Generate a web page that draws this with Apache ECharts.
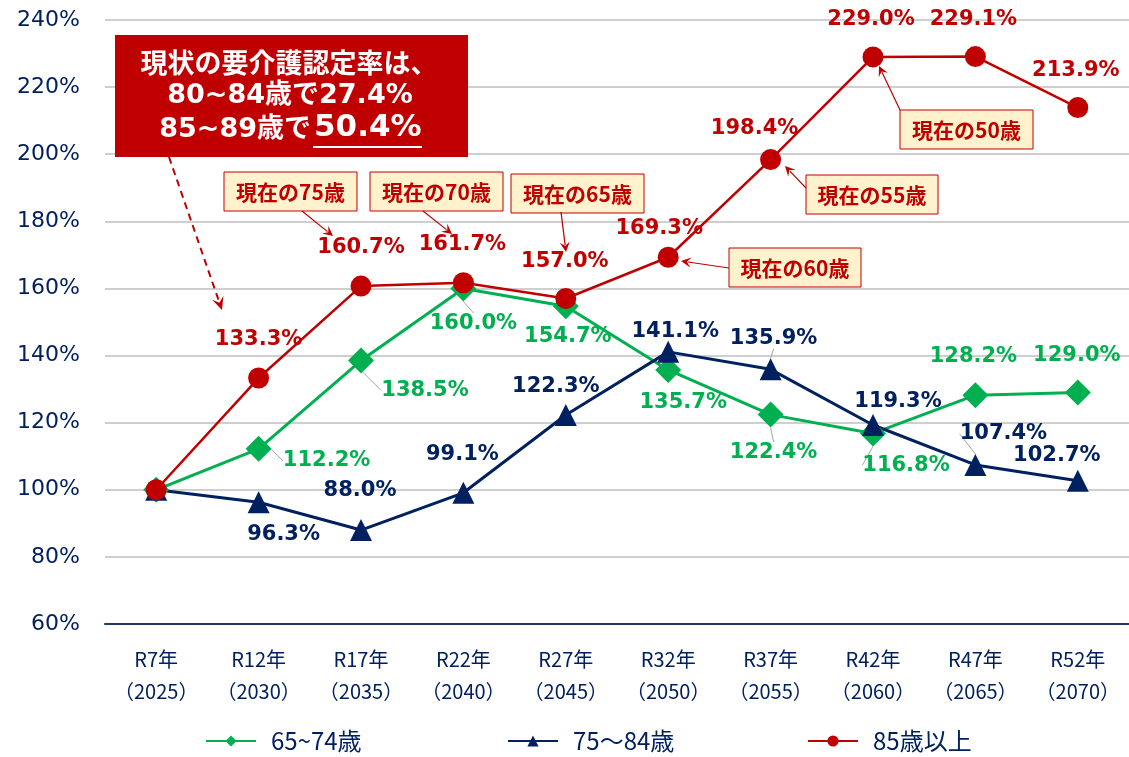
<!DOCTYPE html>
<html>
<head>
<meta charset="utf-8">
<script src="https://cdn.jsdelivr.net/npm/echarts@6/dist/echarts.min.js"></script>
<style>
html,body{margin:0;padding:0;background:#fff;}
#chart{width:1129px;height:757px;}
</style>
</head>
<body>
<div id="chart"></div>
<script>
// ---- data ----
const reiwaYears = ['R7年','R12年','R17年','R22年','R27年','R32年','R37年','R42年','R47年','R52年'];
const westernYears = ['（2025）','（2030）','（2035）','（2040）','（2045）','（2050）','（2055）','（2060）','（2065）','（2070）'];
const seriesNames = ['65~74歳','75～84歳','85歳以上'];
const age65to74 = [100, 112.2, 138.5, 160.0, 154.7, 135.7, 122.4, 116.8, 128.2, 129.0];
const age75to84 = [100, 96.3, 88.0, 99.1, 122.3, 141.1, 135.9, 119.3, 107.4, 102.7];
const age85plus = [100, 133.3, 160.7, 161.7, 157.0, 169.3, 198.4, 229.0, 229.1, 213.9];
const yTicks = {min: 60, max: 240, interval: 20};

// ---- label placement (offset of label centre from its point) ----
const greenOffsets = [[0,0],[68,12],[64,30],[10,35],[2,30],[15,33],[3,38],[33,32],[-2,-39],[-1,-37]];
const navyOffsets  = [[0,0],[25,32],[-1,-39],[-1,-38],[-10,-28],[7,-20],[3,-31],[25,-23],[28,-31],[-21,-25]];
const redOffsets   = [[0,0],[0,-38],[0,-39],[-1,-38],[-1,-37],[-9,-29],[-16,-31],[-2,-37],[-2,-37],[-2,-37]];
const greenLeaders = [1,2,3,6,7];
const navyLeaders  = [6,8];
const redLeaders   = [];

const GREEN = '#00B050', NAVY = '#002060', RED = '#C00000';
const NUMFONT = '"DejaVu Sans","Noto Sans CJK JP",sans-serif';
const JPFONT = '"Noto Sans CJK JP","DejaVu Sans",sans-serif';

const categories = reiwaYears.map((r, i) => r + '\n' + westernYears[i]);

function buildData(values, leaders) {
  return values.map((v, i) => {
    const item = {value: v};
    if (leaders.indexOf(i) >= 0) {
      item.labelLine = {show: true, lineStyle: {color: '#A6A6A6', width: 1}};
    }
    return item;
  });
}

function makeSeries(name, values, color, symbol, size, width, offsets, leaders) {
  return {
    name: name,
    type: 'line',
    data: buildData(values, leaders),
    symbol: symbol,
    symbolSize: size,
    lineStyle: {color: color, width: width},
    itemStyle: {color: color},
    animation: false,
    label: {
      show: true,
      position: 'inside',
      align: 'center',
      verticalAlign: 'middle',
      color: color,
      fontFamily: NUMFONT,
      fontWeight: 'bold',
      fontSize: 21,
      formatter: p => p.dataIndex === 0 ? '' : p.value.toFixed(1) + '%'
    },
    labelLine: {show: false, lineStyle: {color: '#A6A6A6', width: 1}},
    labelLayout: function (p) {
      const o = offsets[p.dataIndex];
      return {dx: o[0], dy: o[1]};
    }
  };
}

// ---- annotations ----
function arrow(x1, y1, x2, y2, opts) {
  opts = opts || {};
  const w = opts.width || 1.2;
  const head = opts.head || 10;
  const hw = opts.headWidth || 5;
  const ang = Math.atan2(y2 - y1, x2 - x1);
  const bx = x2 - head * Math.cos(ang), by = y2 - head * Math.sin(ang);
  const nx = -Math.sin(ang), ny = Math.cos(ang);
  const items = [];
  items.push({
    type: 'line', silent: true, z: 100,
    shape: {x1: x1, y1: y1, x2: bx + 3 * Math.cos(ang), y2: by + 3 * Math.sin(ang)},
    style: {stroke: RED, lineWidth: w, lineDash: opts.dash || null}
  });
  items.push({
    type: 'polygon', silent: true, z: 100,
    shape: {points: [[x2, y2], [bx + hw * nx, by + hw * ny], [x2 - (head * 0.6) * Math.cos(ang), y2 - (head * 0.6) * Math.sin(ang)], [bx - hw * nx, by - hw * ny]]},
    style: {fill: RED}
  });
  return items;
}

function noteBox(x, y, w, h, text) {
  return [
    {type: 'rect', silent: true, z: 99, shape: {x: x, y: y, width: w, height: h},
     style: {fill: '#FFF2CC', stroke: RED, lineWidth: 1}},
    {type: 'text', silent: true, z: 101, x: x + w / 2, y: y + h / 2 + 1,
     style: {text: text, fill: RED, font: 'bold 21px ' + JPFONT, textAlign: 'center', textVerticalAlign: 'middle'}}
  ];
}

let graphics = [];
// headline box
graphics.push({type: 'rect', silent: true, z: 99, shape: {x: 115, y: 35, width: 353, height: 122}, style: {fill: RED}});
graphics.push({type: 'text', silent: true, z: 101, x: 289, y: 63,
  style: {text: '現状の要介護認定率は、', fill: '#fff', font: 'bold 27px ' + JPFONT, textAlign: 'center', textVerticalAlign: 'middle'}});
graphics.push({type: 'text', silent: true, z: 101, x: 290, y: 96,
  style: {text: '80~84歳で27.4%', fill: '#fff', font: 'bold 27px ' + NUMFONT, textAlign: 'center', textVerticalAlign: 'middle'}});
graphics.push({type: 'text', silent: true, z: 101, x: 311, y: 130,
  style: {text: '85~89歳で', fill: '#fff', font: 'bold 27px ' + NUMFONT, textAlign: 'right', textVerticalAlign: 'middle'}});
graphics.push({type: 'text', silent: true, z: 101, x: 314, y: 128,
  style: {text: '50.4%', fill: '#fff', font: 'bold 31px ' + NUMFONT, textAlign: 'left', textVerticalAlign: 'middle'}});
graphics.push({type: 'line', silent: true, z: 101, shape: {x1: 313, y1: 147, x2: 422, y2: 147}, style: {stroke: '#fff', lineWidth: 2}});

graphics = graphics.concat(arrow(169, 157, 222, 310, {width: 2, dash: [7, 5], head: 13, headWidth: 6}));

graphics = graphics.concat(noteBox(224, 172, 133, 39, '現在の75歳'));
graphics = graphics.concat(noteBox(370, 172, 133, 39, '現在の70歳'));
graphics = graphics.concat(noteBox(511, 174, 133, 39, '現在の65歳'));
graphics = graphics.concat(noteBox(729, 248, 132, 39, '現在の60歳'));
graphics = graphics.concat(noteBox(806, 175, 132, 39, '現在の55歳'));
graphics = graphics.concat(noteBox(900, 110, 133, 39, '現在の50歳'));

graphics = graphics.concat(arrow(302, 211, 333, 236));
graphics = graphics.concat(arrow(423, 211, 452, 234));
graphics = graphics.concat(arrow(561, 212, 566, 252));
graphics = graphics.concat(arrow(729, 268, 681, 261));
graphics = graphics.concat(arrow(806, 188, 785, 166));
graphics = graphics.concat(arrow(900, 110, 879, 66));

function legendAt(left, name) {
  return {
    show: true, data: [name], left: left, top: 729,
    itemWidth: 50, itemHeight: 14, padding: 0,
    textStyle: {color: NAVY, fontSize: 24, fontFamily: JPFONT, padding: [0, 0, 0, 10]}
  };
}

const chart = echarts.init(document.getElementById('chart'), null, {renderer: 'canvas'});
chart.setOption({
  animation: false,
  backgroundColor: '#fff',
  grid: {left: 105, top: 20, width: 1026, height: 604, containLabel: false},
  legend: [legendAt(205, seriesNames[0]), legendAt(507, seriesNames[1]), legendAt(807, seriesNames[2])],
  xAxis: {
    type: 'category',
    data: categories,
    boundaryGap: true,
    axisLine: {lineStyle: {color: '#1F3864', width: 2}},
    axisTick: {show: false},
    axisLabel: {color: NAVY, fontSize: 20, fontFamily: JPFONT, lineHeight: 32, margin: 19, interval: 0}
  },
  yAxis: {
    type: 'value',
    min: yTicks.min, max: yTicks.max, interval: yTicks.interval,
    axisLine: {show: false},
    axisTick: {show: false},
    splitLine: {lineStyle: {color: '#BFBFBF', width: 1.5}},
    axisLabel: {color: NAVY, fontSize: 22, fontFamily: NUMFONT, margin: 25, formatter: v => v + '%'}
  },
  series: [
    makeSeries(seriesNames[0], age65to74, GREEN, 'diamond', 26, 3, greenOffsets, greenLeaders),
    makeSeries(seriesNames[1], age75to84, NAVY, 'triangle', 22, 3, navyOffsets, navyLeaders),
    makeSeries(seriesNames[2], age85plus, RED, 'circle', 21, 2.5, redOffsets, redLeaders)
  ],
  graphic: graphics
});
</script>
</body>
</html>
